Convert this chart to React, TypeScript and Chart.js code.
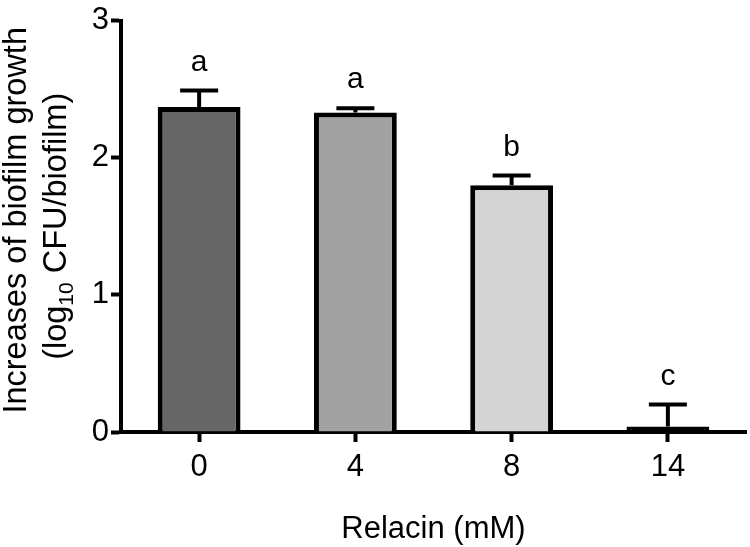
import React, { useEffect, useRef } from "react";
import { Chart, registerables } from "chart.js";

Chart.register(...registerables);

const categories = ["0", "4", "8", "14"];
const means = [2.37, 2.33, 1.8, 0.04];
const errors = [0.12, 0.03, 0.07, 0.16];
const letters = ["a", "a", "b", "c"];
const barColors = ["#666666", "#a2a2a2", "#d4d4d4", "#000000"];
const yMin = 0;
const yMax = 3;
const yStep = 1;
const xTitle = "Relacin (mM)";
const yTitleLine1 = "Increases of biofilm growth";
const yTitleLine2 = ["(log", "10", " CFU/biofilm)"];

const FONT = "'Liberation Sans', Arial, Helvetica, sans-serif";

const errorBarPlugin = {
  id: "errorBars",
  afterDatasetsDraw(chart: any) {
    const ctx = chart.ctx;
    const meta = chart.getDatasetMeta(0);
    const yScale = chart.scales.y;
    ctx.save();
    ctx.strokeStyle = "#000";
    ctx.fillStyle = "#000";
    ctx.lineWidth = 4;
    ctx.lineCap = "butt";
    meta.data.forEach((bar: any, i: number) => {
      const x = bar.x;
      const top = yScale.getPixelForValue(means[i]);
      const capY = yScale.getPixelForValue(means[i] + errors[i]);
      ctx.beginPath();
      ctx.moveTo(x, top);
      ctx.lineTo(x, capY);
      ctx.moveTo(x - 19, capY);
      ctx.lineTo(x + 19, capY);
      ctx.stroke();
      ctx.font = `30px ${FONT}`;
      ctx.textAlign = "center";
      ctx.textBaseline = "alphabetic";
      ctx.fillText(letters[i], x, capY - 20);
    });
    ctx.restore();
  },
};

const titlesPlugin = {
  id: "titles",
  afterDraw(chart: any) {
    const ctx = chart.ctx;
    const area = chart.chartArea;
    ctx.save();
    ctx.fillStyle = "#000";
    // x title
    ctx.font = `31px ${FONT}`;
    ctx.textAlign = "center";
    ctx.textBaseline = "alphabetic";
    ctx.fillText(xTitle, (area.left + area.right) / 2, 538);
    // y title line 1
    const cy = (area.top + area.bottom) / 2;
    ctx.save();
    ctx.translate(26, cy - 6);
    ctx.rotate(-Math.PI / 2);
    ctx.font = `32.5px ${FONT}`;
    ctx.textAlign = "center";
    ctx.fillText(yTitleLine1, 0, 0);
    ctx.restore();
    // y title line 2 with subscript
    ctx.save();
    ctx.translate(66, cy);
    ctx.rotate(-Math.PI / 2);
    const big = `32.5px ${FONT}`;
    const small = `21px ${FONT}`;
    ctx.font = big;
    const w0 = ctx.measureText(yTitleLine2[0]).width;
    const w2 = ctx.measureText(yTitleLine2[2]).width;
    ctx.font = small;
    const w1 = ctx.measureText(yTitleLine2[1]).width;
    let x = -(w0 + w1 + w2) / 2;
    ctx.textAlign = "left";
    ctx.font = big;
    ctx.fillText(yTitleLine2[0], x, 0);
    x += w0;
    ctx.font = small;
    ctx.fillText(yTitleLine2[1], x, 7);
    x += w1;
    ctx.font = big;
    ctx.fillText(yTitleLine2[2], x, 0);
    ctx.restore();
    ctx.restore();
  },
};

export default function App() {
  const ref = useRef<HTMLCanvasElement | null>(null);
  useEffect(() => {
    if (!ref.current) return;
    const chart = new Chart(ref.current, {
      type: "bar",
      data: {
        labels: categories,
        datasets: [
          {
            data: means,
            backgroundColor: barColors,
            borderColor: "#000",
            borderWidth: 5,
            borderSkipped: "start",
            barPercentage: 0.53,
            categoryPercentage: 1,
          },
        ],
      },
      options: {
        responsive: false,
        animation: false,
        layout: { padding: { top: 15, right: 4, left: 0, bottom: 0 } },
        plugins: {
          legend: { display: false },
          tooltip: { enabled: false },
        },
        scales: {
          x: {
            offset: true,
            grid: {
              offset: false,
              drawOnChartArea: false,
              tickLength: 10,
              tickColor: "#000",
              tickWidth: 4,
            },
            border: { color: "#000", width: 4 },
            ticks: {
              color: "#000",
              font: { family: FONT, size: 31 },
              padding: 7,
              maxRotation: 0,
            },
            afterFit(scale: any) {
              scale.height = 115;
            },
          },
          y: {
            min: yMin,
            max: yMax,
            grid: {
              drawOnChartArea: false,
              tickLength: 10,
              tickColor: "#000",
              tickWidth: 4,
            },
            border: { color: "#000", width: 4 },
            ticks: {
              stepSize: yStep,
              color: "#000",
              font: { family: FONT, size: 31 },
              padding: 2,
            },
            afterFit(scale: any) {
              scale.width = 121;
            },
          },
        },
      },
      plugins: [errorBarPlugin, titlesPlugin],
    });
    return () => chart.destroy();
  }, []);
  return (
    <div style={{ position: "absolute", left: 0, top: 0, width: 750, height: 547, background: "#fff" }}>
      <canvas ref={ref} width={750} height={547} style={{ display: "block" }} />
    </div>
  );
}
